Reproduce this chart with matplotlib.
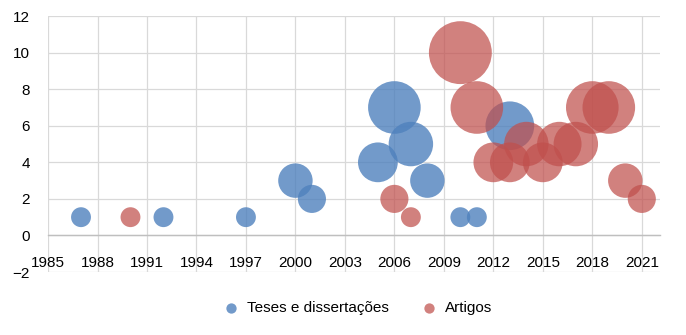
import matplotlib.pyplot as plt

plt.rcParams['font.family'] = ['Liberation Sans', 'DejaVu Sans']

# Teses e dissertações
teses_ano = [1987, 1992, 1997, 2000, 2001, 2005, 2006, 2007, 2008, 2010, 2011, 2013]
teses_qtd = [1, 1, 1, 3, 2, 4, 7, 5, 3, 1, 1, 6]

# Artigos
artigos_ano = [1990, 2006, 2007, 2010, 2011, 2012, 2013, 2014, 2015, 2016, 2017, 2018, 2019, 2020, 2021]
artigos_qtd = [1, 2, 1, 10, 7, 4, 4, 5, 4, 5, 5, 7, 7, 3, 2]

x_ticks = list(range(1985, 2022, 3))
y_ticks = list(range(-2, 13, 2))

scale = 205

fig = plt.figure(figsize=(6.86, 3.35), dpi=100)
fig.subplots_adjust(left=0.07, right=0.962, top=0.952, bottom=0.188)
ax = fig.add_subplot(111)

ax.scatter(teses_ano, teses_qtd, s=[v * scale for v in teses_qtd],
           color='#4f81bd', alpha=0.8, linewidths=0, label='Teses e dissertações', zorder=3)
ax.scatter(artigos_ano, artigos_qtd, s=[v * scale for v in artigos_qtd],
           color='#c0504d', alpha=0.72, linewidths=0, label='Artigos', zorder=3)

ax.set_xlim(1985, 2022.1)
ax.set_ylim(-2, 12)
ax.set_xticks(x_ticks)
ax.set_yticks(y_ticks)
ax.grid(True, color='#d9d9d9', linewidth=0.9)
ax.set_axisbelow(True)

for side in ['top', 'right', 'left']:
    ax.spines[side].set_visible(False)
ax.spines['bottom'].set_position(('data', 0))
ax.spines['bottom'].set_color('#bfbfbf')
ax.spines['bottom'].set_linewidth(1.0)

ax.tick_params(axis='both', length=0, labelsize=11, colors='#000000')
ax.tick_params(axis='x', pad=15)
ax.tick_params(axis='y', pad=13)

leg = ax.legend(loc='upper center', bbox_to_anchor=(0.5, -0.06), ncol=2, frameon=False,
                fontsize=11, handletextpad=0.05, columnspacing=1.6)
for h in leg.legend_handles:
    h.set_sizes([55])

fig.savefig('out.png', dpi=100)
